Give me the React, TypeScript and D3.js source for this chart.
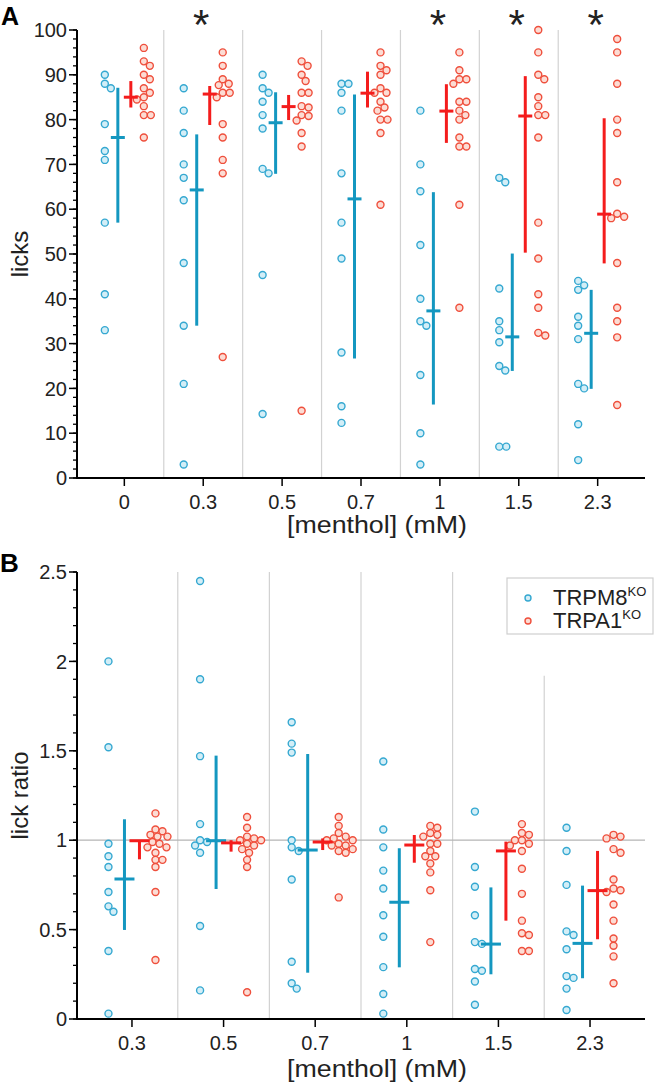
import React from 'react';
import * as d3 from 'd3';

// ---------- Panel A data (licks) ----------
const catsA = ['0', '0.3', '0.5', '0.7', '1', '1.5', '2.3'];
const blueLicks = [
  [90, 88, 87, 79, 73, 71, 57, 41, 33],
  [87, 82, 77, 70, 67, 62, 48, 34, 21, 3],
  [90, 87, 86, 84, 81, 78, 69, 68, 45.3, 14.3],
  [88, 88, 86, 82, 68, 57, 49, 28, 16, 12.3],
  [82, 70, 64, 52, 40, 35, 34, 23, 10, 3],
  [67, 66, 42.3, 35, 33, 30.3, 25, 24, 7, 7],
  [44, 43, 42, 36, 34, 31, 21, 20, 12, 4],
];
const redLicks = [
  [96, 93, 92, 90, 89, 87, 86, 85, 84.5, 83, 81, 81, 76],
  [95, 92, 89, 88, 87.7, 86, 86, 85, 79, 76, 71, 68, 27],
  [93, 92, 90, 88.6, 86, 86, 83, 82.7, 81, 80.8, 79.8, 77, 74, 15],
  [95, 92, 91, 90, 87, 86, 86, 84, 82.7, 82, 80, 80, 77, 61],
  [95, 91, 89, 89, 88, 84, 84, 82, 81, 80, 76, 74, 74, 61, 38],
  [100, 95, 90, 89, 85, 83, 81, 81, 76, 57, 49, 41, 38, 32.4, 31.8],
  [98, 95, 88, 80, 77, 66, 59, 58.3, 58, 48, 38, 35, 31.4, 16.3],
];
const blueLicksMean = [76, 64.3, 79.3, 62.3, 37.3, 31.5, 32.3];
const blueLicksLo = [57, 34, 67.9, 26.7, 16.4, 23.9, 19.9];
const blueLicksHi = [87.1, 76.7, 86.1, 85.6, 63.8, 50.1, 42];
const redLicksMean = [85, 85.7, 82.9, 85.9, 81.9, 80.8, 58.9];
const redLicksLo = [82.7, 78.8, 79.9, 82.7, 74.8, 50.3, 47.9];
const redLicksHi = [88.6, 87.5, 85.5, 90.7, 87.9, 89.7, 80.3];
const sigA = ['0.3', '1', '1.5', '2.3'];
const yTicksA = [0, 10, 20, 30, 40, 50, 60, 70, 80, 90, 100];

// ---------- Panel B data (lick ratio) ----------
const catsB = ['0.3', '0.5', '0.7', '1', '1.5', '2.3'];
const blueRatio = [
  [2.0, 1.52, 0.98, 0.91, 0.85, 0.71, 0.63, 0.6, 0.38, 0.03],
  [2.45, 1.9, 1.47, 1.09, 1.0, 0.99, 0.97, 0.93, 0.52, 0.16],
  [1.66, 1.54, 1.49, 1.0, 0.96, 0.94, 0.78, 0.32, 0.2, 0.17],
  [1.44, 1.06, 0.96, 0.83, 0.73, 0.58, 0.46, 0.29, 0.14, 0.03],
  [1.16, 0.85, 0.74, 0.58, 0.43, 0.42, 0.28, 0.27, 0.21, 0.08],
  [1.07, 0.94, 0.75, 0.49, 0.47, 0.39, 0.24, 0.23, 0.17, 0.05],
];
const redRatio = [
  [1.15, 1.06, 1.05, 1.03, 1.02, 1.02, 0.99, 0.98, 0.96, 0.96, 0.93, 0.89, 0.89, 0.85, 0.71, 0.33],
  [1.13, 1.07, 1.02, 1.01, 1.0, 1.0, 0.98, 0.97, 0.95, 0.93, 0.89, 0.85, 0.15],
  [1.13, 1.08, 1.04, 1.02, 1.01, 1.0, 1.0, 0.98, 0.97, 0.97, 0.95, 0.94, 0.93, 0.68],
  [1.08, 1.07, 1.04, 1.03, 1.02, 0.98, 0.98, 0.94, 0.91, 0.91, 0.87, 0.82, 0.72, 0.43],
  [1.09, 1.04, 1.03, 1.0, 1.0, 0.98, 0.97, 0.94, 0.84, 0.7, 0.55, 0.48, 0.47, 0.38, 0.38],
  [1.03, 1.02, 1.01, 0.95, 0.93, 0.78, 0.73, 0.72, 0.71, 0.64, 0.55, 0.45, 0.41, 0.35, 0.2],
];
const blueRatioMean = [0.783, 0.997, 0.945, 0.653, 0.419, 0.423];
const blueRatioLo = [0.498, 0.727, 0.259, 0.289, 0.25, 0.228];
const blueRatioHi = [1.117, 1.473, 1.482, 0.955, 0.736, 0.746];
const redRatioMean = [0.997, 0.985, 0.99, 0.973, 0.94, 0.718];
const redRatioLo = [0.893, 0.936, 0.945, 0.874, 0.55, 0.446];
const redRatioHi = [1.0, 1.0, 1.01, 1.029, 0.992, 0.94];
const yTicksB = [0, 0.5, 1, 1.5, 2, 2.5];
const yTickLabelsB = ['0', '0.5', '1', '1.5', '2', '2.5'];
const legendLabels = ['TRPM8', 'TRPA1'];

// ---------- style ----------
const FONT = '"Liberation Sans", Arial, Helvetica, sans-serif';
const blueLine = '#1497c0';
const blueDotStroke = '#35a8d1';
const blueDotFill = '#d3eef7';
const redLine = '#f41c1c';
const redDotStroke = '#ef4f3c';
const redDotFill = '#fcdcd4';
const gridColor = '#d2d2d2';

function swarm(vals: number[], y: (v: number) => number, D: number): number[] {
  const placed: { x: number; y: number }[] = [];
  const out: number[] = [];
  vals.forEach((v) => {
    const yy = y(v);
    let chosen = 0;
    for (let k = 0; k < 60; k++) {
      const off = k === 0 ? 0 : (k % 2 === 1 ? 1 : -1) * Math.ceil(k / 2);
      const ok = placed.every((p) => (p.x - off) ** 2 + (p.y - yy) ** 2 >= D * D);
      if (ok) { chosen = off; break; }
    }
    placed.push({ x: chosen, y: yy });
    out.push(chosen);
  });
  return out;
}

type PanelProps = {
  cats: string[];
  blue: number[][];
  red: number[][];
  bMean: number[]; bLo: number[]; bHi: number[];
  rMean: number[]; rLo: number[]; rHi: number[];
  yMax: number;
  top: number; bottom: number;
  majorTicks: number[]; tickLabels: string[]; minorStep: number;
  dotOff: number; barOff: number; capHalf: number;
  yTitle: string;
  refLine?: number;
  clipLastSep?: number;
  sig?: string[];
  titleY: number;
};

const LEFT = 77;
const RIGHT = 645;

function Panel(p: PanelProps) {
  const x = d3.scalePoint<string>().domain(p.cats).range([LEFT, RIGHT]).padding(0.6);
  const y = d3.scaleLinear().domain([0, p.yMax]).range([p.bottom, p.top]);
  const step = x.step();
  const minor = d3.range(0, p.yMax + 1e-9, p.minorStep);
  const seps = p.cats.slice(0, -1).map((c, i) => ({ x: (x(c) as number) + step / 2, i }));
  const R = 3.5;
  return (
    <g>
      {seps.map((s) => (
        <line key={'s' + s.i} x1={s.x} x2={s.x}
          y1={p.clipLastSep !== undefined && s.i === seps.length - 1 ? y(p.clipLastSep) : p.top}
          y2={p.bottom} stroke={gridColor} strokeWidth={1.2} />
      ))}
      {p.refLine !== undefined && (
        <line x1={LEFT} x2={RIGHT} y1={y(p.refLine)} y2={y(p.refLine)} stroke="#b5b5b5" strokeWidth={1.3} />
      )}
      {p.cats.map((c, i) => {
        const cx = x(c) as number;
        const bo = swarm(p.blue[i], y, 7);
        const ro = swarm(p.red[i], y, 7);
        return (
          <g key={c}>
            {p.blue[i].map((v, j) => (
              <circle key={'b' + j} cx={cx - p.dotOff + bo[j]} cy={y(v)} r={R}
                fill={blueDotFill} stroke={blueDotStroke} strokeWidth={1.4} />
            ))}
            {p.red[i].map((v, j) => (
              <circle key={'r' + j} cx={cx + p.dotOff + ro[j]} cy={y(v)} r={R}
                fill={redDotFill} stroke={redDotStroke} strokeWidth={1.4} />
            ))}
            <line x1={cx - p.barOff} x2={cx - p.barOff} y1={y(p.bLo[i])} y2={y(p.bHi[i])} stroke={blueLine} strokeWidth={3} />
            <line x1={cx - p.barOff - p.capHalf} x2={cx - p.barOff + p.capHalf} y1={y(p.bMean[i])} y2={y(p.bMean[i])} stroke={blueLine} strokeWidth={3} />
            <line x1={cx + p.barOff} x2={cx + p.barOff} y1={y(p.rLo[i])} y2={y(p.rHi[i])} stroke={redLine} strokeWidth={3} />
            <line x1={cx + p.barOff - p.capHalf} x2={cx + p.barOff + p.capHalf} y1={y(p.rMean[i])} y2={y(p.rMean[i])} stroke={redLine} strokeWidth={3} />
          </g>
        );
      })}
      {(p.sig || []).map((c) => (
        <text key={'sig' + c} x={(x(c) as number) - 2} y={39} textAnchor="middle"
          fontFamily={FONT} fontSize={42} fill="#222">*</text>
      ))}
      {/* axes */}
      <line x1={LEFT} x2={LEFT} y1={p.top} y2={p.bottom + 1} stroke="#000" strokeWidth={2} />
      <line x1={LEFT - 1} x2={RIGHT} y1={p.bottom} y2={p.bottom} stroke="#000" strokeWidth={2} />
      {minor.map((t, k) => (
        <line key={'m' + k} x1={LEFT - 4} x2={LEFT} y1={y(t)} y2={y(t)} stroke="#000" strokeWidth={1.3} />
      ))}
      {p.majorTicks.map((t, k) => (
        <g key={'M' + k}>
          <line x1={LEFT - 8} x2={LEFT} y1={y(t)} y2={y(t)} stroke="#000" strokeWidth={1.5} />
          <text x={LEFT - 10} y={y(t)} dy="0.36em" textAnchor="end" fontFamily={FONT} fontSize={20} fill="#222">
            {p.tickLabels[k]}
          </text>
        </g>
      ))}
      {p.cats.map((c) => (
        <g key={'x' + c}>
          <line x1={x(c) as number} x2={x(c) as number} y1={p.bottom} y2={p.bottom + 8} stroke="#000" strokeWidth={1.5} />
          <text x={x(c) as number} y={p.bottom + 31} textAnchor="middle" fontFamily={FONT} fontSize={20} fill="#222">{c}</text>
        </g>
      ))}
      <text transform={`translate(28,${(p.top + p.bottom) / 2}) rotate(-90)`} textAnchor="middle"
        fontFamily={FONT} fontSize={24} fill="#222">{p.yTitle}</text>
      <text x={377} y={p.titleY} textAnchor="middle" fontFamily={FONT} fontSize={23}
        textLength={180} lengthAdjust="spacingAndGlyphs" fill="#222">[menthol] (mM)</text>
    </g>
  );
}

export default function App() {
  return (
    <svg width={656} height={1087} style={{ position: 'absolute', left: 0, top: 0, background: '#fff' }}>
      <rect x={0} y={0} width={656} height={1087} fill="#fff" />
      <text x={1} y={25} fontFamily={FONT} fontSize={25} fontWeight="bold" fill="#000">A</text>
      <text x={0} y={572} fontFamily={FONT} fontSize={26} fontWeight="bold" fill="#000">B</text>
      <Panel cats={catsA} blue={blueLicks} red={redLicks}
        bMean={blueLicksMean} bLo={blueLicksLo} bHi={blueLicksHi}
        rMean={redLicksMean} rLo={redLicksLo} rHi={redLicksHi}
        yMax={100} top={30} bottom={478}
        majorTicks={yTicksA} tickLabels={yTicksA.map(String)} minorStep={2}
        dotOff={19.5} barOff={6.5} capHalf={7}
        yTitle="licks" sig={sigA} titleY={533} />
      <Panel cats={catsB} blue={blueRatio} red={redRatio}
        bMean={blueRatioMean} bLo={blueRatioLo} bHi={blueRatioHi}
        rMean={redRatioMean} rLo={redRatioLo} rHi={redRatioHi}
        yMax={2.5} top={572} bottom={1019}
        majorTicks={yTicksB} tickLabels={yTickLabelsB} minorStep={0.1}
        dotOff={23.5} barOff={7.5} capHalf={10}
        yTitle="lick ratio" refLine={1} clipLastSep={1.92} titleY={1077} />
      {/* legend */}
      <g>
        <rect x={507} y={578} width={146} height={56} fill="#fff" stroke="#cfcfcf" strokeWidth={1.2} />
        {legendLabels.map((l, i) => (
          <g key={l}>
            <circle cx={528} cy={598 + i * 23} r={3} fill={i === 0 ? blueDotFill : redDotFill}
              stroke={i === 0 ? blueDotStroke : redDotStroke} strokeWidth={1.4} />
            <text x={553} y={605 + i * 23} fontFamily={FONT} fontSize={22} fill="#222">
              {l}<tspan fontSize={13} dy={-9}>KO</tspan>
            </text>
          </g>
        ))}
      </g>
    </svg>
  );
}
